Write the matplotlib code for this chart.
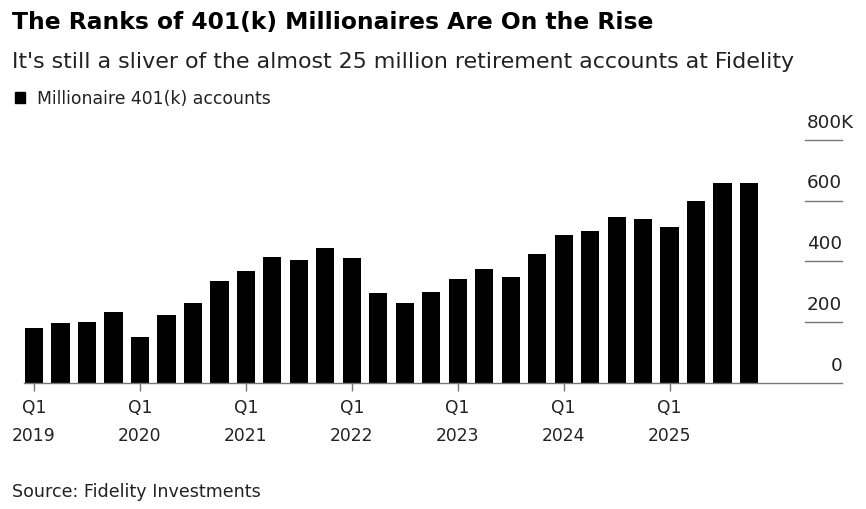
import numpy as np
import matplotlib.pyplot as plt

plt.rcParams["font.family"] = ["DejaVu Sans"]

# ── Datos (miles de cuentas 401(k) millonarias, Fidelity) ─────────────────────
trimestres = [f"Q{q} {y}" for y in range(2019, 2026) for q in range(1, 5)]
cuentas = [181, 198, 202, 235, 151, 225, 264, 336,
           367, 414, 406, 445, 410, 297, 263, 300,
           341, 376, 349, 423, 487, 499, 546, 540,
           513, 598, 656, 657]
anios = [2019, 2020, 2021, 2022, 2023, 2024, 2025]
y_ticks = [0, 200, 400, 600, 800]
y_labels = ["0", "200", "400", "600", "800K"]

TXT = "#222222"
GRIS = "#777777"

fig = plt.figure(figsize=(8.66, 5.10), dpi=100)
ax = fig.add_axes([0.0277, 0.2471, 0.9446, 0.4770])

x = np.arange(len(cuentas))
ax.bar(x, cuentas, width=0.69, color="black", zorder=2)

ax.set_xlim(-0.378, 30.51)
ax.set_ylim(0, 800)

for s in ["top", "right", "left"]:
    ax.spines[s].set_visible(False)
ax.spines["bottom"].set_color(GRIS)
ax.spines["bottom"].set_linewidth(1.0)

# ticks del eje x solo en Q1
ax.set_xticks([4 * i for i in range(len(anios))])
ax.set_xticklabels([f"Q1\n{a}" for a in anios], fontsize=12.3, color=TXT,
                   linespacing=1.72)
ax.tick_params(axis="x", length=6, width=1, color=GRIS, pad=5)
ax.set_yticks([])

# eje y a la derecha, estilo "línea corta + etiqueta"
x_ini = (805 - 34) / 26.48
x_lab = (806.5 - 34) / 26.48
for v, lab in zip(y_ticks, y_labels):
    if v > 0:
        ax.plot([x_ini, 30.51], [v, v], color=GRIS, lw=1.0, clip_on=False)
        ax.annotate(lab, xy=(x_lab, v), xytext=(0, 13), textcoords="offset points",
                    ha="left", va="center", fontsize=13.2, color=TXT,
                    annotation_clip=False)
    else:
        ax.annotate(lab, xy=(30.51, v), xytext=(0, 13), textcoords="offset points",
                    ha="right", va="center", fontsize=13.2, color=TXT,
                    annotation_clip=False)

# títulos y leyenda
fig.text(12 / 866, 1 - 22 / 510, "The Ranks of 401(k) Millionaires Are On the Rise",
         fontsize=16.8, fontweight="bold", color="black", va="center", ha="left")
fig.text(12 / 866, 1 - 62 / 510,
         "It's still a sliver of the almost 25 million retirement accounts at Fidelity",
         fontsize=15.9, color=TXT, va="center", ha="left")
fig.patches.append(plt.Rectangle((15 / 866, 1 - 103.5 / 510), 10 / 866, 10 / 510,
                                 transform=fig.transFigure, color="black"))
fig.text(37 / 866, 1 - 99 / 510, "Millionaire 401(k) accounts",
         fontsize=12.4, color=TXT, va="center", ha="left")
fig.text(12 / 866, 1 - 492 / 510, "Source: Fidelity Investments",
         fontsize=12.6, color=TXT, va="center", ha="left")

fig.savefig("out.png", dpi=100)
